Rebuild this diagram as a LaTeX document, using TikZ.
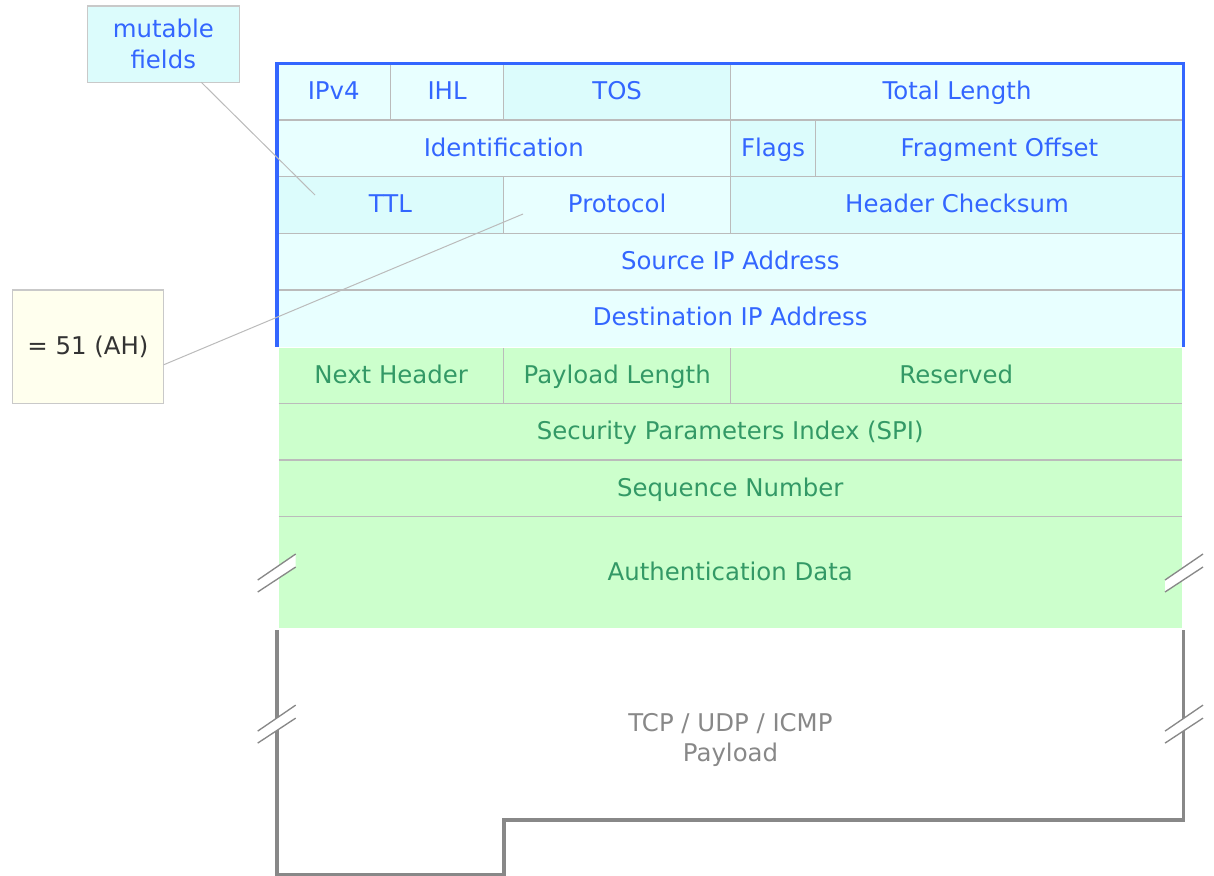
\documentclass[tikz,border=0pt]{standalone}
\usepackage{fontspec}
\setmainfont{DejaVu Sans}
\usepackage{tikz}
\usetikzlibrary{calc}
\usepackage{xcolor}
\definecolor{ipblue}{HTML}{3366FF}
\definecolor{ipfill}{HTML}{E8FFFF}
\definecolor{mutfill}{HTML}{DCFCFC}
\definecolor{ahfill}{HTML}{CCFFCC}
\definecolor{ahgreen}{HTML}{339966}
\definecolor{rulegray}{HTML}{BBBBBB}
\definecolor{paygray}{HTML}{888888}
\definecolor{notefill}{HTML}{FFFFEE}
\definecolor{notetext}{HTML}{333333}

\begin{document}
\begin{tikzpicture}[x=0.75pt, y=-0.75pt,
    every node/.style={font=\fontsize{18.3}{22}\selectfont},
    box/.style 2 args={minimum width=#1*0.75pt, minimum height=#2*0.75pt,
                       anchor=north west, inner sep=0pt, outer sep=0pt},
    cell/.style 2 args={box={#1}{#2}, text height=1.2em, text depth=0.05em},
    ipcell/.style={fill=ipfill, text=ipblue},
    mutcell/.style={fill=mutfill, text=ipblue},
    ahcell/.style={fill=ahfill, text=ahgreen},
    notebox/.style={draw=rulegray!80, line width=0.9pt, align=center},
    divider/.style={rulegray, line width=0.9pt},
    ipborder/.style={ipblue, line width=2.3pt},
    payline/.style={paygray, line width=2.3pt},
    breakline/.style={paygray, line width=1pt},
    callout/.style={rulegray, line width=0.75pt}
  ]
    \useasboundingbox (0,0) rectangle (1214,875);

    % IPv4 header
    \node[ipcell, cell={113.4}{56.7}] (ver) at (277,63.3) {IPv4};
    \node[ipcell, cell={113.4}{56.7}] (ihl) at (390.4,63.3) {IHL};
    \node[mutcell, cell={226.7}{56.7}] (tos) at (503.8,63.3) {TOS};
    \node[ipcell, cell={453}{56.7}] (totlen) at (730.5,63.3) {Total Length};
    \node[ipcell, cell={453.5}{56.7}] (ident) at (277,120) {Identification};
    \node[mutcell, cell={85}{56.7}] (flags) at (730.5,120) {Flags};
    \node[mutcell, cell={368}{56.7}] (fragoff) at (815.5,120) {Fragment Offset};
    \node[mutcell, cell={226.8}{56.6}] (ttl) at (277,176.7) {TTL};
    \node[ipcell, cell={226.7}{56.6}] (proto) at (503.8,176.7) {Protocol};
    \node[mutcell, cell={453}{56.6}] (chksum) at (730.5,176.7) {Header Checksum};
    \node[ipcell, cell={906.5}{56.7}] (srcip) at (277,233.3) {Source IP Address};
    \node[ipcell, cell={906.5}{56.5}] (dstip) at (277,290) {Destination IP Address};

    \draw[divider] (ver.south west) -- (totlen.south east)
                   (ident.south west) -- (fragoff.south east)
                   (ttl.south west) -- (chksum.south east)
                   (srcip.south west) -- (srcip.south east);
    \draw[divider] (ver.north east) -- (ver.south east)
                   (ihl.north east) -- (ihl.south east)
                   (tos.north east) -- (tos.south east)
                   (ident.north east) -- (ident.south east)
                   (flags.north east) -- (flags.south east)
                   (ttl.north east) -- (ttl.south east)
                   (proto.north east) -- (proto.south east);
    \draw[ipborder] (dstip.south west) -- (ver.north west)
                    -- (totlen.north east) -- (dstip.south east);

    % authentication header
    \node[ahcell, cell={225.3}{55.3}] (nexthdr) at (278.5,348) {Next Header};
    \node[ahcell, cell={226.7}{55.3}] (paylen) at (503.8,348) {Payload Length};
    \node[ahcell, cell={451.5}{55.3}] (resv) at (730.5,348) {Reserved};
    \node[ahcell, cell={903.5}{56.7}] (spi) at (278.5,403.3) {Security Parameters Index (SPI)};
    \node[ahcell, cell={903.5}{56.7}] (seqnum) at (278.5,460) {Sequence Number};
    \node[ahcell, cell={903.5}{111.6}] (authdata) at (278.5,516.7) {Authentication Data};

    \draw[divider] (nexthdr.south west) -- (resv.south east)
                   (spi.south west) -- (spi.south east)
                   (seqnum.south west) -- (seqnum.south east);
    \draw[divider] (nexthdr.north east) -- (nexthdr.south east)
                   (paylen.north east) -- (paylen.south east);

    % payload
    \node[text=paygray, align=center] (payload) at (730.5,740)
      {TCP / UDP / ICMP\\[1pt]Payload};
    \draw[payline] (277,630) -- (277,874.5) -- (504,874.5) -- (504,820)
                   -- (1183.7,820) -- (1183.7,630);

    \foreach \bx/\by in {276.7/573.3, 1184/573.3, 276.7/724.4, 1184/724.4} {
      \fill[white] (\bx-19,\by+6.7) -- (\bx+19,\by-19.3)
                   -- (\bx+19,\by-6.3) -- (\bx-19,\by+18.7) -- cycle;
      \draw[breakline] (\bx-19,\by+6.7) -- (\bx+19,\by-19.3)
                       (\bx-19,\by+18.7) -- (\bx+19,\by-6.3);
    }

    % callouts
    \node[notebox, box={152}{76.3}, fill=mutfill, text=ipblue]
      (mutable) at (87.3,6) {mutable\\[1pt]fields};
    \node[notebox, box={151.4}{113.3}, fill=notefill, text=notetext]
      (ahnum) at (12.3,290) {= 51 (AH)};
    \coordinate (ttlpt) at (315,195);
    \coordinate (protopt) at (523,214);
    \draw[callout] ($(mutable.south)!0.5!(mutable.south east)$) -- (ttlpt);
    \draw[callout] ($(ahnum.east)!0.32!(ahnum.south east)$) -- (protopt);
  \end{tikzpicture}
\end{document}
